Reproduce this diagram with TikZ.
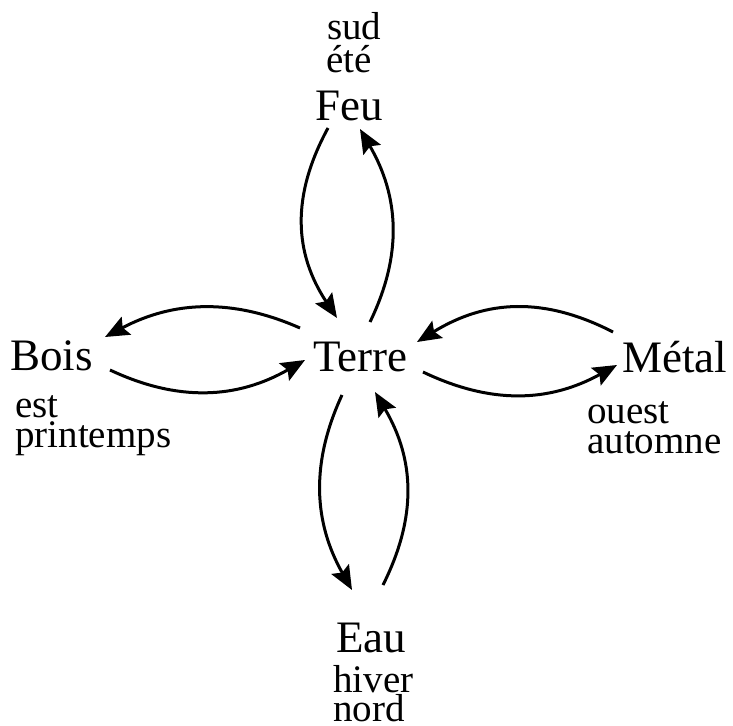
\documentclass[tikz,border=0pt]{standalone}
\usepackage{fontspec}
\setmainfont{Liberation Serif}
\usetikzlibrary{arrows.meta}
\tikzset{
  mainlabel/.style={anchor=base west, inner sep=0pt, font=\fontsize{45}{45}\selectfont},
  sublabel/.style={anchor=base west, inner sep=0pt, font=\fontsize{39}{39}\selectfont},
  conn/.style={line width=3pt, -{Stealth[length=24pt,width=20pt,inset=4pt]}}
}
\begin{document}
\begin{tikzpicture}[x=1pt,y=-1pt]
\useasboundingbox (0,0) rectangle (733,725);
% main nodes
\node[mainlabel] (feu) at (315,120) {Feu};
\node[mainlabel] (terre) at (313,371) {Terre};
\node[mainlabel] (bois) at (10,370) {Bois};
\node[mainlabel] (metal) at (622,372) {Métal};
\node[mainlabel] (eau) at (336,652) {Eau};
% sub labels
\node[sublabel] (sud) at (327,40) {sud};
\node[sublabel] (ete) at (326,72) {été};
\node[sublabel] (est) at (15,417) {est};
\node[sublabel] (printemps) at (15,447) {printemps};
\node[sublabel] (ouest) at (587,423) {ouest};
\node[sublabel] (automne) at (587,453) {automne};
\node[sublabel] (hiver) at (333,692) {hiver};
\node[sublabel] (nord) at (333,721) {nord};
% connectors
\draw[conn] ([shift={(13,8)}]feu.base west) .. controls (291,196) and (294,253) .. ([shift={(24,-53)}]terre.base west);
\draw[conn] ([shift={(57,-49)}]terre.base west) .. controls (402.5,255) and (399.5,197) .. ([shift={(45,9)}]feu.base west);
\draw[conn] ([shift={(29,24)}]terre.base west) .. controls (310.5,463) and (313.5,522) .. ([shift={(16,-62)}]eau.base west);
\draw[conn] ([shift={(47,-67)}]eau.base west) .. controls (417,517) and (415,460) .. ([shift={(62,21)}]terre.base west);
\draw[conn] ([shift={(-13,-43)}]terre.base west) .. controls (232,298) and (173,301) .. ([shift={(95,-33)}]bois.base west);
\draw[conn] ([shift={(100,0)}]bois.base west) .. controls (178,402) and (237,399) .. ([shift={(-8,-11)}]terre.base west);
\draw[conn] ([shift={(-9,-40)}]metal.base west) .. controls (544,296.5) and (486,299.5) .. ([shift={(104,-29)}]terre.base west);
\draw[conn] ([shift={(110,1)}]terre.base west) .. controls (491,404.5) and (549,402.5) .. ([shift={(-5,-7)}]metal.base west);
\end{tikzpicture}
\end{document}
